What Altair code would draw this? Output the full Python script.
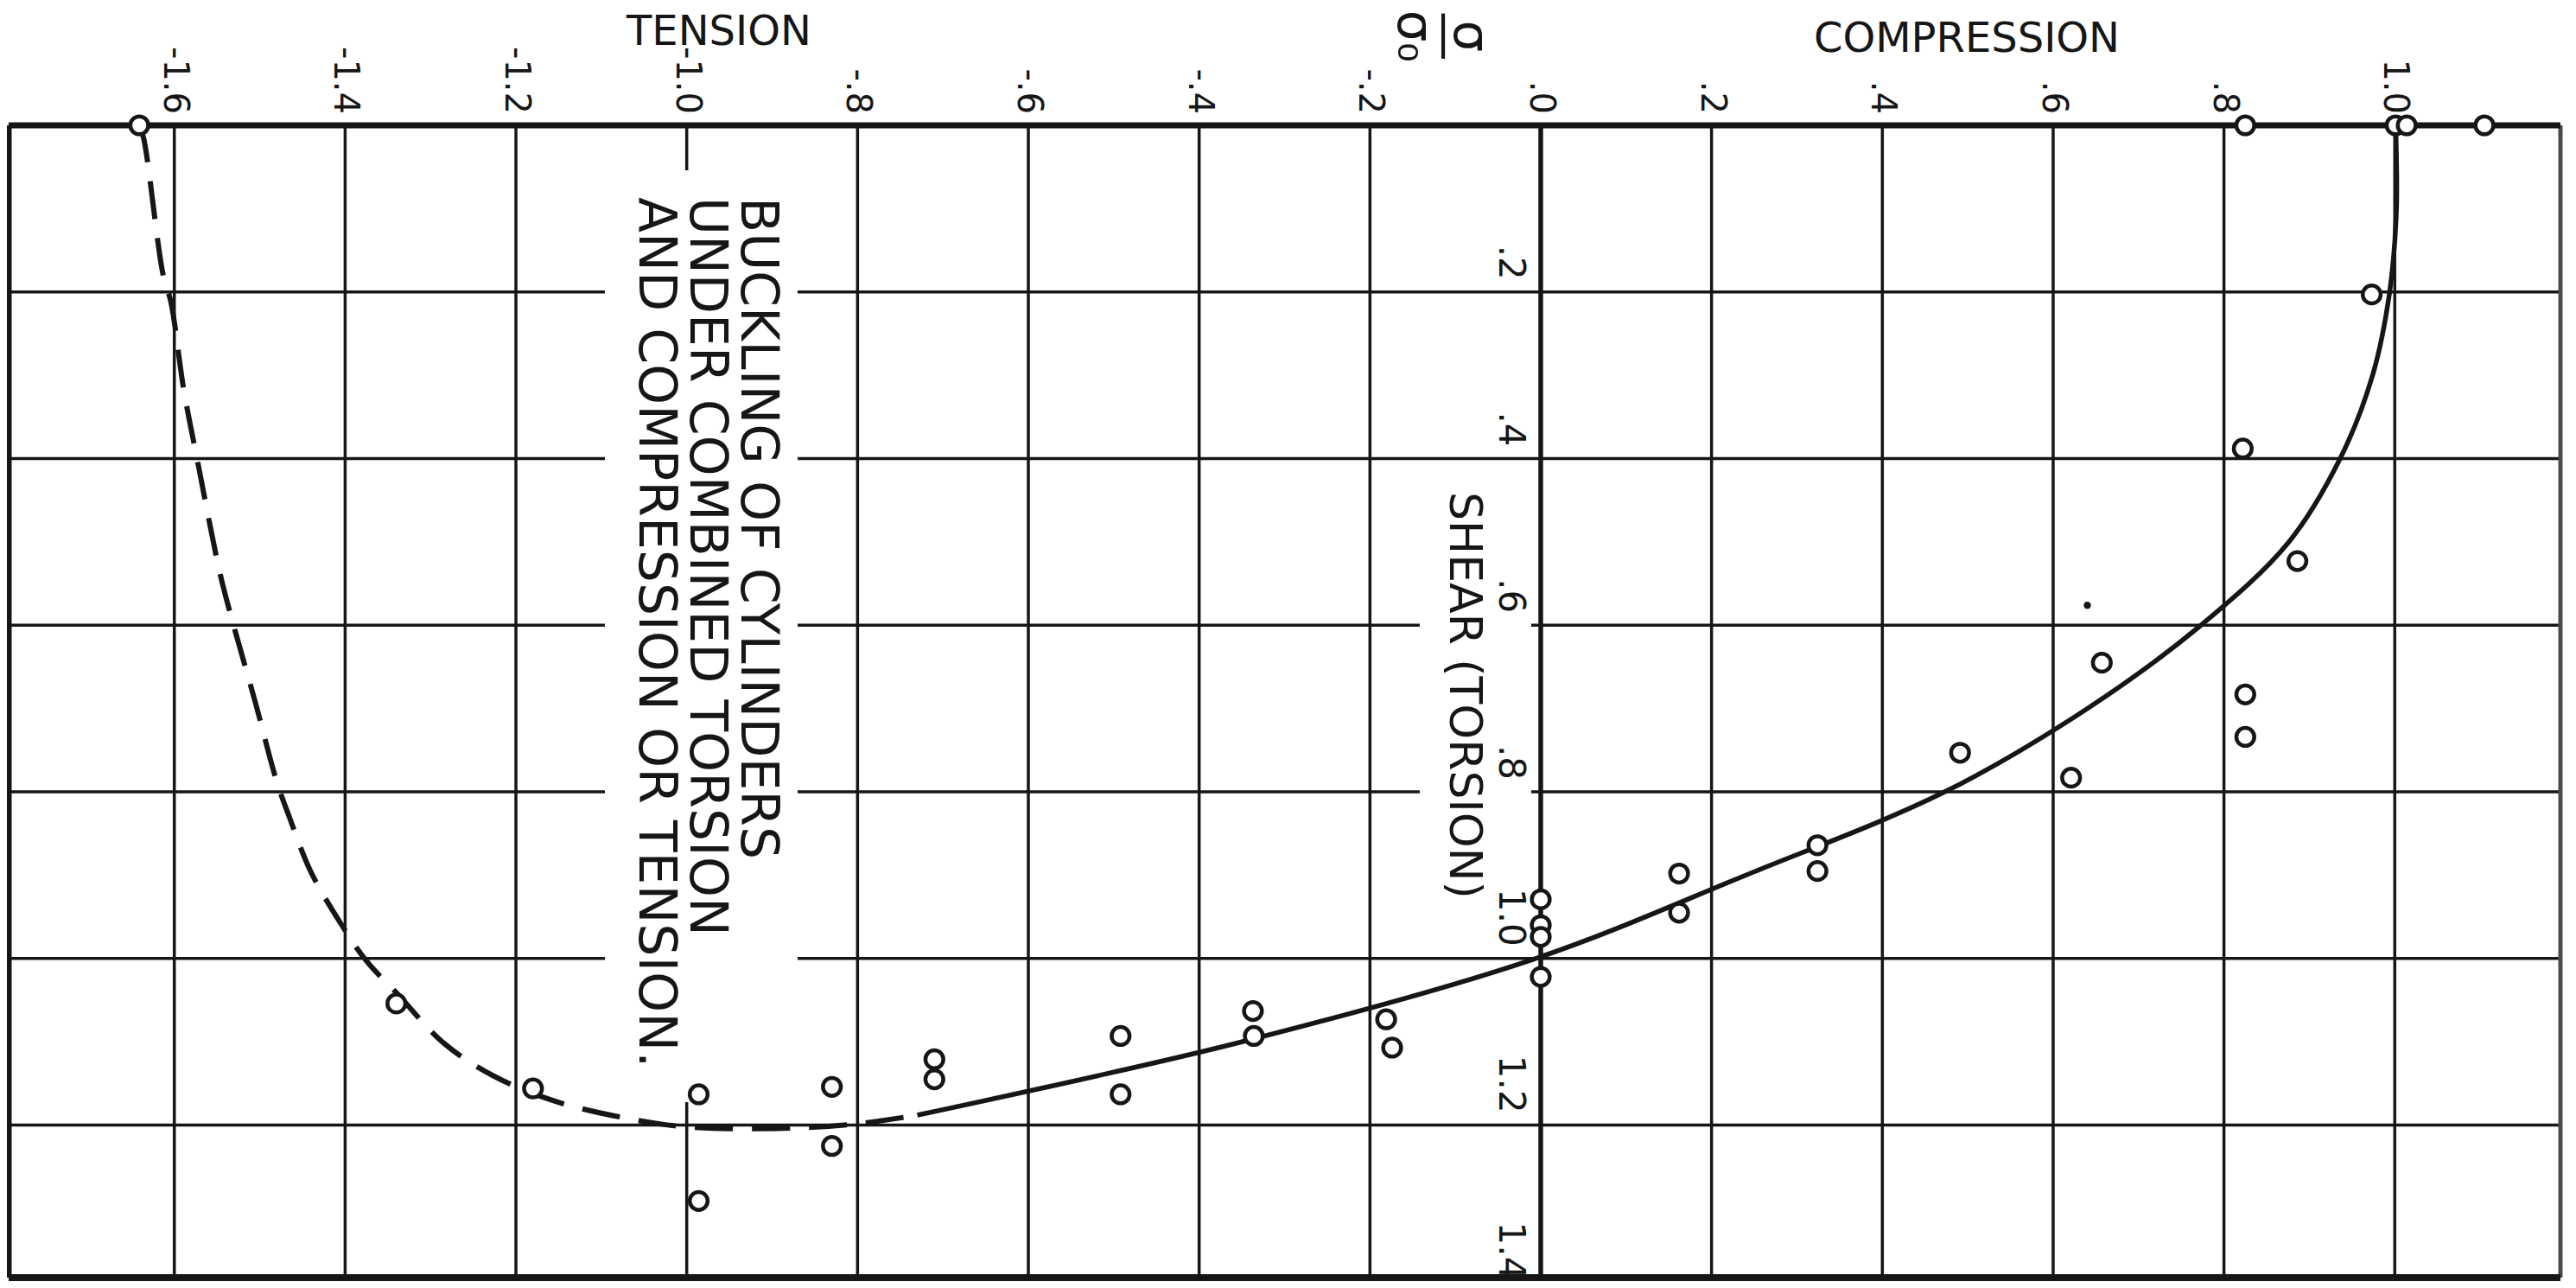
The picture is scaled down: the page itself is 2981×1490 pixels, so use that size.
import altair as alt
import pandas as pd

# ---- test points (x = compression ratio, y = shear ratio) ----
pt_x = [-1.641, 0.825, 1.001, 1.014, 1.105, 0.973, 0.822, 0.886, 0.657, 0.825, 0.825,
        0.491, 0.621, 0.324, 0.324, 0.162, 0.162, 0.0, 0.0, 0.0, 0.0,
        -0.181, -0.174, -0.337, -0.336, -0.492, -0.492, -0.710, -0.710,
        -0.830, -0.830, -0.986, -0.986, -1.180, -1.340]
pt_y = [0.0, 0.0, 0.0, 0.0, 0.0, 0.203, 0.388, 0.523, 0.645, 0.683, 0.734,
        0.753, 0.783, 0.864, 0.895, 0.898, 0.945, 0.929, 0.960, 0.974, 1.022,
        1.073, 1.107, 1.063, 1.093, 1.093, 1.163, 1.121, 1.145,
        1.154, 1.225, 1.163, 1.291, 1.156, 1.054]
dot_x = [0.640]
dot_y = [0.576]

# ---- interaction curve, solid part (listed along the curve) ----
solid_x = [-0.730, -0.350, -0.006, 0.240, 0.473, 0.640, 0.773, 0.876, 0.936,
           0.974, 0.994, 1.002, 1.001]
solid_y = [1.188, 1.100, 1.000, 0.900, 0.800, 0.700, 0.600, 0.500, 0.400,
           0.300, 0.200, 0.100, 0.0]

# ---- interaction curve, dashed part (listed along the curve) ----
dash_x = [-1.641, -1.636, -1.613, -1.604, -1.589, -1.573, -1.546, -1.529, -1.505,
          -1.480, -1.465, -1.441, -1.410, -1.375, -1.340, -1.284, -1.226, -1.155,
          -1.064, -1.000, -0.895, -0.806, -0.730]
dash_y = [0.0, 0.015, 0.180, 0.212, 0.317, 0.402, 0.540, 0.606, 0.693,
          0.788, 0.831, 0.894, 0.950, 1.003, 1.041, 1.102, 1.141, 1.171,
          1.193, 1.202, 1.204, 1.199, 1.188]

# ---- ticks / grid ----
x_ticks = [-1.6, -1.4, -1.2, -1.0, -0.8, -0.6, -0.4, -0.2, 0.0, 0.2, 0.4, 0.6, 0.8, 1.0]
x_tick_labels = ["-1.6", "-1.4", "-1.2", "-1.0", "-.8", "-.6", "-.4", "-.2", ".0",
                 ".2", ".4", ".6", ".8", "1.0"]
y_ticks = [0.2, 0.4, 0.6, 0.8, 1.0, 1.2, 1.4]
y_tick_labels = [".2", ".4", ".6", ".8", "1.0", "1.2", "1.4"]
x_grid = [-1.6, -1.4, -1.2, -1.0, -0.8, -0.6, -0.4, -0.2, 0.2, 0.4, 0.6, 0.8, 1.0]
y_grid = [0.2, 0.4, 0.6, 0.8, 1.0, 1.2]
x_domain = [-1.794, 1.194]
y_domain = [0.0, 1.383]

# ---- lettering ----
title_lines = ["BUCKLING OF CYLINDERS", "UNDER COMBINED TORSION", "AND COMPRESSION OR TENSION."]
title_pos = [-0.936, 0.0861]
shear_label = "SHEAR (TORSION)"
shear_pos = [-0.1063, 0.440]
side_labels = ["TENSION", "COMPRESSION"]
side_x = [-0.9623, 0.4988]
side_y = [-0.0965, -0.0882]
ratio_parts = ["σ", "—", "σ₀"]
ratio_x = [-0.084, -0.1134, -0.1498]
ratio_y = [-0.107, -0.107, -0.107]

# white patches behind the lettering (the grid is interrupted there)
mask_x1 = [-1.0958, -0.1417]
mask_x2 = [-0.8702, -0.0112]
mask_y1 = [0.054, 0.430]
mask_y2 = [1.1725, 0.985]

FONT = "DejaVu Sans"
INK = "#161616"
W, H = 2953, 1333

xs = alt.Scale(domain=x_domain, nice=False, zero=False)
ys = alt.Scale(domain=y_domain, nice=False, zero=False, reverse=True)
X = lambda f: alt.X(f, type="quantitative", scale=xs, axis=None)
Y = lambda f: alt.Y(f, type="quantitative", scale=ys, axis=None)

vgrid = alt.Chart(pd.DataFrame({"x": x_grid})).mark_rule(color=INK, strokeWidth=3.5).encode(x=X("x"))
hgrid = alt.Chart(pd.DataFrame({"y": y_grid})).mark_rule(color=INK, strokeWidth=3.5).encode(y=Y("y"))

masks = alt.Chart(pd.DataFrame({"x1": mask_x1, "x2": mask_x2, "y1": mask_y1, "y2": mask_y2})).mark_rect(
    fill="white").encode(x=X("x1"), x2="x2", y=Y("y1"), y2="y2")

zero_line = alt.Chart(pd.DataFrame({"x": [0.0]})).mark_rule(color=INK, strokeWidth=5.5).encode(x=X("x"))
left_line = alt.Chart(pd.DataFrame({"x": [x_domain[0]]})).mark_rule(color=INK, strokeWidth=7).encode(x=X("x"))
right_line = alt.Chart(pd.DataFrame({"x": [x_domain[1]]})).mark_rule(color="#4a4a4a", strokeWidth=5).encode(x=X("x"))
top_line = alt.Chart(pd.DataFrame({"y": [0.0]})).mark_rule(color=INK, strokeWidth=7).encode(y=Y("y"))
bottom_line = alt.Chart(pd.DataFrame({"y": [y_domain[1]]})).mark_rule(color=INK, strokeWidth=8).encode(y=Y("y"))

xlab = alt.Chart(pd.DataFrame({"x": x_ticks, "y": [0.0] * len(x_ticks), "t": x_tick_labels})).mark_text(
    angle=90, align="right", baseline="middle", dx=-13, font=FONT, fontSize=40, color=INK
).encode(x=X("x"), y=Y("y"), text="t:N")

ylab = alt.Chart(pd.DataFrame({"x": [0.0] * len(y_ticks), "y": y_ticks, "t": y_tick_labels})).mark_text(
    angle=90, align="right", baseline="alphabetic", dx=-14, dy=48, font=FONT, fontSize=42, color=INK
).encode(x=X("x"), y=Y("y"), text="t:N")

title = alt.Chart(pd.DataFrame({"x": [title_pos[0]], "y": [title_pos[1]], "t": ["\n".join(title_lines)]})).mark_text(
    angle=90, align="left", baseline="alphabetic", lineBreak="\n", lineHeight=59,
    font=FONT, fontSize=60, color=INK
).encode(x=X("x"), y=Y("y"), text="t:N")

shear = alt.Chart(pd.DataFrame({"x": [shear_pos[0]], "y": [shear_pos[1]], "t": [shear_label]})).mark_text(
    angle=90, align="left", baseline="alphabetic", font=FONT, fontSize=52, color=INK
).encode(x=X("x"), y=Y("y"), text="t:N")

sides = alt.Chart(pd.DataFrame({"x": side_x, "y": side_y, "t": side_labels})).mark_text(
    align="center", baseline="alphabetic", font=FONT, fontSize=48, color=INK
).encode(x=X("x"), y=Y("y"), text="t:N")

ratio = alt.Chart(pd.DataFrame({"x": ratio_x, "y": ratio_y, "t": ratio_parts})).mark_text(
    angle=90, align="center", baseline="middle", font=FONT, fontSize=58, color=INK
).encode(x=X("x"), y=Y("y"), text="t:N")

solid = alt.Chart(pd.DataFrame({"x": solid_x, "y": solid_y, "i": list(range(len(solid_x)))})).mark_line(
    color=INK, strokeWidth=5.5, interpolate="catmull-rom"
).encode(x=X("x"), y=Y("y"), order="i:Q")

dashed = alt.Chart(pd.DataFrame({"x": dash_x, "y": dash_y, "i": list(range(len(dash_x)))})).mark_line(
    color=INK, strokeWidth=6, strokeDash=[44, 22], interpolate="catmull-rom"
).encode(x=X("x"), y=Y("y"), order="i:Q")

points = alt.Chart(pd.DataFrame({"x": pt_x, "y": pt_y})).mark_point(
    shape="circle", filled=True, fill="white", stroke=INK, strokeWidth=4.5, size=430, opacity=1
).encode(x=X("x"), y=Y("y"))

dot = alt.Chart(pd.DataFrame({"x": dot_x, "y": dot_y})).mark_circle(
    color=INK, size=70, opacity=1
).encode(x=X("x"), y=Y("y"))

chart = alt.layer(
    vgrid, hgrid, masks, zero_line, left_line, right_line, top_line, bottom_line,
    xlab, ylab, title, shear, sides, ratio, solid, dashed, points, dot
).properties(
    width=W, height=H,
    autosize=alt.AutoSizeParams(type="none"),
    padding={"left": 2, "top": 137, "right": 4, "bottom": 4},
    background="white",
).configure_view(stroke=None)

chart.save("out.html", embed_options={"renderer": "svg", "actions": False})
